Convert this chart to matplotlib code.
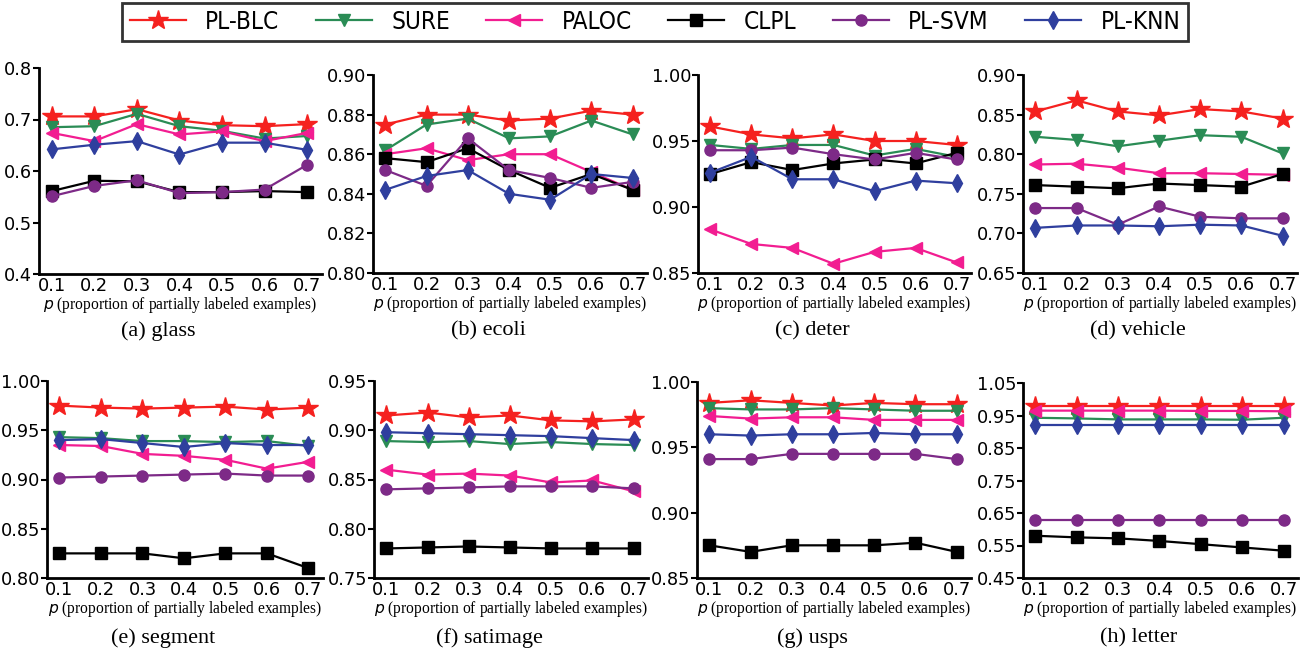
import matplotlib
matplotlib.use("Agg")
import matplotlib.pyplot as plt
from matplotlib.ticker import FormatStrFormatter
import numpy as np

# proportion of partially labeled examples
p = [0.1, 0.2, 0.3, 0.4, 0.5, 0.6, 0.7]

methods = ['PL-BLC', 'SURE', 'PALOC', 'CLPL', 'PL-SVM', 'PL-KNN']

datasets = ['glass', 'ecoli', 'deter', 'vehicle',
            'segment', 'satimage', 'usps', 'letter']
panel_tags = ['(a)', '(b)', '(c)', '(d)', '(e)', '(f)', '(g)', '(h)']

# accuracy per dataset, one list per method (same order as methods)
glass = [
    [0.706, 0.706, 0.720, 0.698, 0.689, 0.687, 0.691],
    [0.685, 0.687, 0.711, 0.687, 0.678, 0.663, 0.668],
    [0.674, 0.658, 0.691, 0.671, 0.677, 0.658, 0.674],
    [0.561, 0.581, 0.580, 0.559, 0.559, 0.561, 0.559],
    [0.551, 0.571, 0.582, 0.557, 0.559, 0.564, 0.612],
    [0.642, 0.651, 0.658, 0.632, 0.655, 0.655, 0.641],
]
ecoli = [
    [0.875, 0.880, 0.880, 0.877, 0.878, 0.882, 0.880],
    [0.862, 0.875, 0.878, 0.868, 0.869, 0.877, 0.870],
    [0.860, 0.863, 0.857, 0.860, 0.860, 0.851, 0.842],
    [0.858, 0.856, 0.863, 0.852, 0.843, 0.850, 0.842],
    [0.852, 0.844, 0.868, 0.852, 0.848, 0.843, 0.846],
    [0.842, 0.849, 0.852, 0.840, 0.837, 0.850, 0.848],
]
deter = [
    [0.961, 0.955, 0.952, 0.955, 0.950, 0.950, 0.947],
    [0.947, 0.944, 0.947, 0.947, 0.939, 0.944, 0.938],
    [0.883, 0.872, 0.869, 0.857, 0.866, 0.869, 0.858],
    [0.925, 0.934, 0.928, 0.933, 0.936, 0.933, 0.941],
    [0.943, 0.943, 0.945, 0.940, 0.936, 0.941, 0.936],
    [0.926, 0.938, 0.921, 0.921, 0.912, 0.920, 0.918],
]
vehicle = [
    [0.854, 0.868, 0.854, 0.849, 0.857, 0.854, 0.845],
    [0.822, 0.818, 0.810, 0.817, 0.824, 0.822, 0.801],
    [0.787, 0.788, 0.783, 0.776, 0.776, 0.775, 0.774],
    [0.761, 0.759, 0.757, 0.763, 0.761, 0.759, 0.775],
    [0.732, 0.732, 0.711, 0.734, 0.721, 0.719, 0.719],
    [0.707, 0.710, 0.710, 0.709, 0.711, 0.710, 0.697],
]
segment = [
    [0.975, 0.973, 0.972, 0.973, 0.974, 0.971, 0.973],
    [0.943, 0.942, 0.939, 0.939, 0.938, 0.939, 0.934],
    [0.935, 0.934, 0.926, 0.924, 0.920, 0.911, 0.918],
    [0.825, 0.825, 0.825, 0.820, 0.825, 0.825, 0.810],
    [0.902, 0.903, 0.904, 0.905, 0.906, 0.904, 0.904],
    [0.940, 0.941, 0.937, 0.933, 0.937, 0.935, 0.935],
]
satimage = [
    [0.915, 0.918, 0.913, 0.915, 0.910, 0.909, 0.911],
    [0.889, 0.888, 0.889, 0.886, 0.888, 0.886, 0.885],
    [0.860, 0.855, 0.856, 0.854, 0.847, 0.849, 0.838],
    [0.780, 0.781, 0.782, 0.781, 0.780, 0.780, 0.780],
    [0.840, 0.841, 0.842, 0.843, 0.843, 0.843, 0.841],
    [0.898, 0.897, 0.896, 0.895, 0.894, 0.892, 0.890],
]
usps = [
    [0.984, 0.986, 0.984, 0.982, 0.984, 0.983, 0.983],
    [0.980, 0.979, 0.979, 0.980, 0.979, 0.978, 0.978],
    [0.974, 0.972, 0.973, 0.973, 0.971, 0.971, 0.971],
    [0.875, 0.870, 0.875, 0.875, 0.875, 0.877, 0.870],
    [0.941, 0.941, 0.945, 0.945, 0.945, 0.945, 0.941],
    [0.960, 0.959, 0.960, 0.960, 0.961, 0.960, 0.960],
]
letter = [
    [0.980, 0.980, 0.980, 0.980, 0.980, 0.980, 0.980],
    [0.943, 0.941, 0.938, 0.938, 0.938, 0.937, 0.943],
    [0.965, 0.965, 0.965, 0.965, 0.964, 0.964, 0.963],
    [0.580, 0.575, 0.572, 0.564, 0.554, 0.544, 0.534],
    [0.630, 0.630, 0.630, 0.630, 0.630, 0.630, 0.630],
    [0.920, 0.920, 0.920, 0.920, 0.920, 0.920, 0.920],
]
results = [glass, ecoli, deter, vehicle, segment, satimage, usps, letter]

# y range / tick step / format for each panel
ylims = [(0.4, 0.8), (0.80, 0.90), (0.85, 1.00), (0.65, 0.90),
         (0.80, 1.00), (0.75, 0.95), (0.85, 1.00), (0.45, 1.05)]
ysteps = [0.1, 0.02, 0.05, 0.05, 0.05, 0.05, 0.05, 0.1]
yfmts = ['%.1f'] + ['%.2f'] * 7

colors = ['#f5211f', '#2a8c55', '#f21d91', '#000000', '#7d2a87', '#2f3f9e']
markers = ['*', 'v', '<', 's', 'o', 'd']
msizes = [15, 9, 9, 8, 8, 9]

plt.rcParams['mathtext.fontset'] = 'dejavusans'
W, H = 1310, 652
fig = plt.figure(figsize=(W / 100, H / 100), dpi=100)

# axes boxes in pixels: left, width, top, bottom
boxes = [(39, 283, 68, 274), (373, 274, 75, 273),
         (698, 273, 75, 273), (1023, 274, 75, 273),
         (47, 276, 381, 578), (374, 274, 381, 578),
         (697, 274, 382, 578), (1023, 275, 383, 578)]

handles = []
for i, (data, name) in enumerate(zip(results, datasets)):
    l, w, t, b = boxes[i]
    ax = fig.add_axes([l / W, 1 - b / H, w / W, (b - t) / H])
    for k, m in enumerate(methods):
        ln, = ax.plot(p, data[k], color=colors[k], marker=markers[k],
                      markersize=msizes[k], linewidth=1.6,
                      markeredgecolor=colors[k], label=m)
        if i == 0:
            handles.append(ln)
    ax.set_xlim(0.07, 0.735)
    lo, hi = ylims[i]
    ax.set_ylim(lo, hi)
    ax.set_xticks(p)
    ax.set_yticks(np.arange(lo, hi + ysteps[i] / 2, ysteps[i]))
    ax.yaxis.set_major_formatter(FormatStrFormatter(yfmts[i]))
    ax.xaxis.set_major_formatter(FormatStrFormatter('%.1f'))
    for s in ['top', 'right']:
        ax.spines[s].set_visible(False)
    for s in ['left', 'bottom']:
        ax.spines[s].set_linewidth(2.0)
    ax.tick_params(axis='y', direction='out', length=4, width=1.5,
                   labelsize=12.8, pad=1)
    ax.tick_params(axis='x', length=0, labelsize=12.8, pad=2)
    ax.set_xlabel(r'$p$ (proportion of partially labeled examples)',
                  family='Liberation Serif', fontsize=11.2, labelpad=0)
    ycap = 331 if i < 4 else 638
    fig.text((l + w / 2 - 22) / W, 1 - ycap / H,
             f'{panel_tags[i]} {name}', family='Liberation Serif',
             fontsize=16, ha='center', va='center')

leg = fig.legend(handles, methods, loc='upper center',
                 bbox_to_anchor=(0.5, 0.996), ncol=6, frameon=True,
                 fancybox=False, edgecolor='black', handlelength=2.3,
                 handletextpad=0.8, columnspacing=1.5, borderpad=0.3,
                 borderaxespad=0,
                 prop={'family': 'DejaVu Sans', 'stretch': 'condensed',
                       'size': 17.5})
leg.get_frame().set_linewidth(2.0)

fig.savefig('out.png', dpi=100)
